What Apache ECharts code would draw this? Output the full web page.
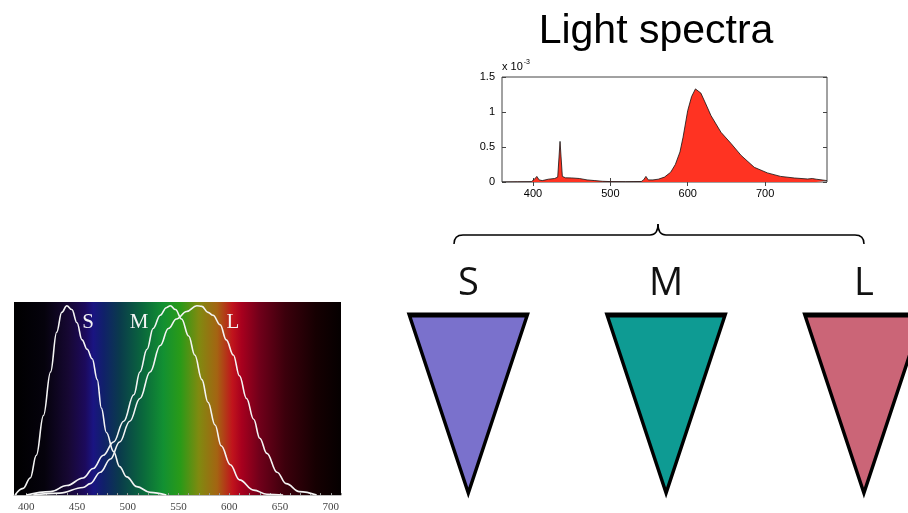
<!DOCTYPE html>
<html>
<head>
<meta charset="utf-8">
<script src="https://cdn.jsdelivr.net/npm/echarts@6/dist/echarts.min.js"></script>
<style>
  html, body { margin: 0; padding: 0; background: #fff; }
  #chart { width: 908px; height: 513px; }
</style>
</head>
<body>
<div id="chart"></div>
<script>
// light source spectrum (values in units of 1e-3)
const specNm = [360, 380, 398, 402, 405, 408, 412, 420, 428, 432, 435, 438, 442, 450, 460, 470, 480, 490, 500, 520, 540, 543, 546, 549, 555, 562, 570, 578, 584, 590, 594, 600, 605, 610, 617, 624, 630, 643, 656, 669, 686, 703, 720, 738, 755, 761, 766, 780];
const specVal = [0, 0.003, 0.005, 0.04, 0.08, 0.03, 0.02, 0.04, 0.05, 0.07, 0.58, 0.08, 0.06, 0.058, 0.05, 0.03, 0.02, 0.01, 0.006, 0.005, 0.007, 0.03, 0.08, 0.03, 0.03, 0.04, 0.07, 0.14, 0.25, 0.43, 0.64, 1.02, 1.22, 1.33, 1.27, 1.1, 0.95, 0.71, 0.55, 0.38, 0.21, 0.13, 0.08, 0.057, 0.043, 0.05, 0.04, 0.02];
const specXTicks = [400, 500, 600, 700];

// cone sensitivities (normalised)
const sNm = [389, 397, 404, 410, 417, 424, 430, 435, 440, 445, 450, 455, 460, 465, 470, 474, 479, 486, 492, 499, 509, 522, 538];
const sVal = [0, 0.035, 0.09, 0.21, 0.42, 0.65, 0.86, 0.965, 1.0, 0.98, 0.91, 0.82, 0.77, 0.72, 0.61, 0.46, 0.33, 0.23, 0.15, 0.096, 0.044, 0.014, 0];
const mNm = [400, 424, 440, 456, 466, 476, 486, 496, 506, 512, 519, 525, 532, 538, 542, 547, 553, 560, 566, 573, 579, 586, 592, 601, 610, 624, 637, 653];
const mVal = [0, 0.018, 0.05, 0.09, 0.14, 0.21, 0.28, 0.39, 0.53, 0.65, 0.77, 0.88, 0.95, 0.99, 1.0, 0.98, 0.93, 0.84, 0.74, 0.61, 0.49, 0.37, 0.26, 0.16, 0.08, 0.026, 0.004, 0];
const lNm = [407, 433, 456, 463, 473, 483, 492, 502, 512, 522, 532, 540, 548, 558, 568, 573, 579, 584, 591, 597, 604, 610, 617, 624, 630, 637, 647, 656, 669, 686];
const lVal = [0, 0.01, 0.04, 0.06, 0.12, 0.19, 0.28, 0.39, 0.51, 0.65, 0.79, 0.88, 0.93, 0.97, 1.0, 0.997, 0.965, 0.95, 0.9, 0.82, 0.74, 0.63, 0.51, 0.4, 0.3, 0.22, 0.12, 0.06, 0.018, 0];
const coneXTicks = [400, 450, 500, 550, 600, 650, 700];
const coneMinorTicks = [390, 400, 410, 420, 430, 440, 450, 460, 470, 480, 490, 500, 510, 520, 530, 540, 550, 560, 570, 580, 590, 600, 610, 620, 630, 640, 650, 660, 670, 680, 690, 700, 710];

// the three cone types (placed at positions 0, 1, 2)
const cones = ['S', 'M', 'L'];
const conePos = [0, 1, 2];
const coneColors = ['#7a71cc', '#0e9b93', '#cb6577'];

const zip = (xs, ys) => xs.map((x, i) => [x, ys[i]]);

// visible spectrum colours behind the cone curves
const bandNm = [388, 418, 442, 458, 466, 476, 492, 515, 535, 552, 570, 588, 603, 612, 630, 655, 685, 710];
const bandColor = ['#000000', '#05020c', '#170834', '#1c0a5c', '#1a1482', '#10206a', '#0a3a4c', '#0a683c', '#129032', '#2a9a18', '#808a10', '#a46412', '#c0141c', '#a8001e', '#70001a', '#3c000c', '#160002', '#050000'];
const bandStops = bandNm.map((nm, i) => ({ offset: (nm - 388) / (710 - 388), color: bandColor[i] }));

const chart = echarts.init(document.getElementById('chart'));

const labelFont = { color: '#000', fontSize: 11, fontFamily: 'Liberation Sans, Arial, sans-serif' };
const serifFont = { color: '#444', fontSize: 11, fontFamily: 'Liberation Serif, serif' };
const brace = { fill: null, stroke: '#000', lineWidth: 1.5 };

const option = {
  animation: false,
  title: {
    text: 'Light spectra',
    left: 651,
    top: 6,
    textAlign: 'center',
    textStyle: { fontSize: 41, fontWeight: 'normal', color: '#000', fontFamily: 'Liberation Sans, Arial, sans-serif' },
  },
  grid: [
    { left: 502, top: 77, width: 325, height: 105, show: true, borderColor: '#444', borderWidth: 1, backgroundColor: '#fff' },
    { left: 14, top: 302, width: 327, height: 193, show: true, borderWidth: 0, backgroundColor: { type: 'linear', x: 0, y: 0, x2: 1, y2: 0, colorStops: bandStops } },
    { left: 369, top: 314, right: 0, height: 180 },
  ],
  xAxis: [
    {
      gridIndex: 0, type: 'value', min: 360, max: 780,
      axisLine: { show: false },
      axisTick: { inside: true, length: 4, lineStyle: { color: '#444' }, customValues: specXTicks },
      axisLabel: { ...labelFont, margin: 6, customValues: specXTicks },
      splitLine: { show: false },
    },
    {
      gridIndex: 0, type: 'value', min: 360, max: 780, position: 'top',
      axisLine: { show: false },
      axisTick: { inside: true, length: 4, lineStyle: { color: '#444' }, customValues: specXTicks },
      axisLabel: { show: false },
      splitLine: { show: false },
    },
    {
      gridIndex: 1, type: 'value', min: 388, max: 710, offset: 2,
      axisLine: { lineStyle: { color: '#bbb', width: 1 } },
      axisTick: { inside: true, length: 2, lineStyle: { color: '#999' }, customValues: coneMinorTicks },
      axisLabel: { ...serifFont, margin: 5, customValues: coneXTicks },
      splitLine: { show: false },
    },
    {
      gridIndex: 2, type: 'value', min: -0.502, max: 2.223, position: 'top',
      axisLine: { show: false },
      axisTick: { show: false },
      splitLine: { show: false },
      axisLabel: {
        color: '#111', fontSize: 38, fontWeight: 500, fontFamily: 'Open Sans, Noto Sans, sans-serif', margin: 11,
        customValues: conePos, formatter: (v) => cones[Math.round(v)],
      },
    },
  ],
  yAxis: [
    {
      gridIndex: 0, type: 'value', min: 0, max: 1.5, interval: 0.5,
      axisLine: { show: false },
      axisTick: { inside: true, length: 4, lineStyle: { color: '#444' } },
      axisLabel: { ...labelFont, margin: 7 },
      splitLine: { show: false },
      name: 'x 10{sup|-3}',
      nameLocation: 'end',
      nameGap: 2,
      nameTextStyle: {
        ...labelFont, align: 'left', verticalAlign: 'bottom',
        rich: { sup: { fontSize: 7, color: '#000', padding: [0, 0, 9, 1] } },
      },
    },
    {
      gridIndex: 0, type: 'value', min: 0, max: 1.5, interval: 0.5, position: 'right',
      axisLine: { show: false },
      axisTick: { inside: true, length: 4, lineStyle: { color: '#444' } },
      axisLabel: { show: false },
      splitLine: { show: false },
    },
    { gridIndex: 1, type: 'value', min: 0, max: 1.02, show: false },
    { gridIndex: 2, type: 'value', min: -1, max: 1, show: false },
  ],
  series: [
    {
      type: 'line', xAxisIndex: 0, yAxisIndex: 0,
      data: zip(specNm, specVal),
      symbol: 'none',
      lineStyle: { color: '#111', width: 0.8 },
      areaStyle: { color: '#ff3322', opacity: 1 },
    },
    ...[sVal, mVal, lVal].map((vals, i) => ({
      type: 'line', xAxisIndex: 2, yAxisIndex: 2,
      data: zip([sNm, mNm, lNm][i], vals),
      symbol: 'none', smooth: 0.4, smoothMonotone: 'x',
      lineStyle: { color: '#f4f4f4', width: 1.6 },
    })),
    {
      type: 'scatter', xAxisIndex: 3, yAxisIndex: 3,
      data: conePos.map((p, i) => ({ value: [p, 0], itemStyle: { color: coneColors[i] } })),
      symbol: 'triangle', symbolRotate: 180, symbolSize: [118, 178],
      itemStyle: { borderColor: '#000', borderWidth: 4, opacity: 1 },
      clip: false,
    },
  ],
  graphic: [
    // brace grouping the three cones
    { type: 'bezierCurve', shape: { x1: 454, y1: 244, cpx1: 454, cpy1: 235, x2: 463, y2: 235 }, style: brace },
    { type: 'line', shape: { x1: 463, y1: 235, x2: 650, y2: 235 }, style: brace },
    { type: 'bezierCurve', shape: { x1: 650, y1: 235, cpx1: 658, cpy1: 235, x2: 658, y2: 224 }, style: brace },
    { type: 'bezierCurve', shape: { x1: 658, y1: 224, cpx1: 658, cpy1: 235, x2: 666, y2: 235 }, style: brace },
    { type: 'line', shape: { x1: 666, y1: 235, x2: 855, y2: 235 }, style: brace },
    { type: 'bezierCurve', shape: { x1: 855, y1: 235, cpx1: 864, cpy1: 235, x2: 864, y2: 244 }, style: brace },
    // curve labels on the cone plot
    ...cones.map((t, i) => ({
      type: 'text',
      x: [88, 139, 233][i], y: 322,
      style: { text: t, fill: '#f4f4f4', fontSize: 21, fontFamily: 'Liberation Serif, serif', align: 'center', verticalAlign: 'middle' },
    })),
  ],
};

chart.setOption(option);
</script>
</body>
</html>
